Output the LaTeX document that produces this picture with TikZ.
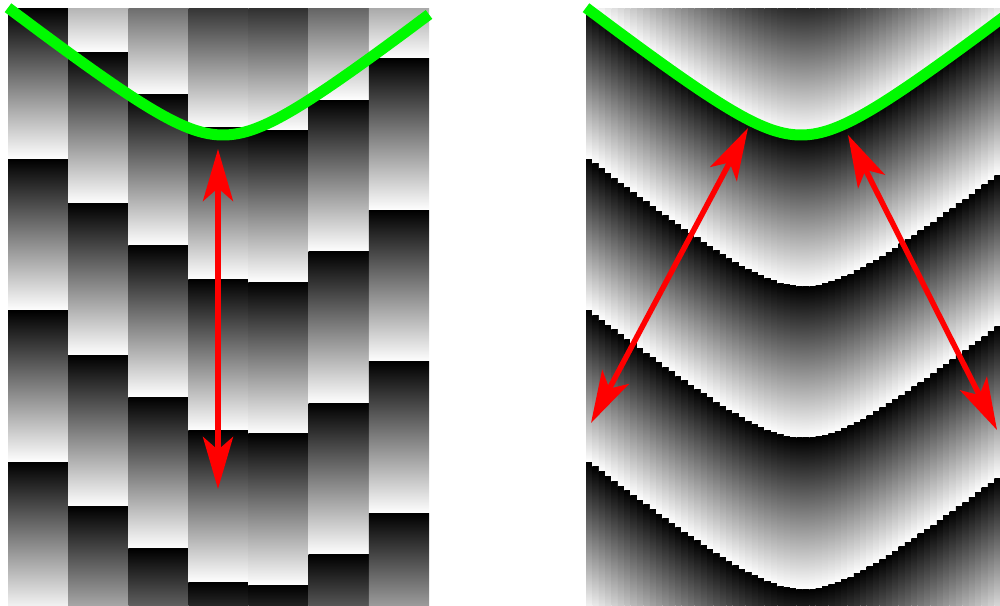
\documentclass[tikz,border=0pt]{standalone}
\usetikzlibrary{arrows.meta}
\definecolor{TruthGreen}{RGB}{0,250,0}
\definecolor{SpanRed}{RGB}{255,0,0}
% true (unwrapped) phase front, x measured from its apex
\pgfmathdeclarefunction{phasefront}{1}{%
  \pgfmathparse{135-0.78*(100*sqrt(0.36+((#1)/100)^2)-60)}}

\begin{document}
\begin{tikzpicture}[x=1pt, y=-1pt,
    wrap/.style={top color=black, bottom color=white},
    truth/.style={TruthGreen, line width=11pt},
    span/.style={{Stealth[length=52pt,width=30pt,inset=13pt]}-{Stealth[length=52pt,width=30pt,inset=13pt]},
                 line width=5.5pt, SpanRed}
  ]
    \useasboundingbox (0,0) rectangle (1000,605);

    % coarse sampling: 7 wide columns
    \begin{scope}
      \clip (8,8) rectangle (429,605);
      \foreach \i in {0,...,6} {
        \pgfmathsetmacro\xa{8+\i*60.143}
        \pgfmathsetmacro\ya{phasefront(\xa-223)}
        \foreach \k in {-1,...,3}
          \shade[wrap] ({\xa},{\ya+(\k)*151.5}) rectangle ({\xa+60.143},{\ya+(\k+1)*151.5});
      }
    \end{scope}

    % fine sampling: 66 thin columns
    \begin{scope}
      \clip (586,8) rectangle (1007,605);
      \foreach \i in {0,...,65} {
        \pgfmathsetmacro\xa{586+\i*6.379}
        \pgfmathsetmacro\ya{phasefront(\xa-801)}
        \foreach \k in {-1,...,3}
          \shade[wrap] ({\xa},{\ya+(\k)*151.5}) rectangle ({\xa+6.379},{\ya+(\k+1)*151.5});
      }
    \end{scope}

    \draw[truth] plot[domain=8:429, samples=90, smooth] (\x, {phasefront(\x-223)});
    \draw[truth] plot[domain=586:1004, samples=90, smooth] (\x, {phasefront(\x-801)});

    \coordinate (coarse top) at (218,149);
    \coordinate (coarse bot) at (218,489);
    \coordinate (fine l top) at (748,128);
    \coordinate (fine l bot) at (591,423);
    \coordinate (fine r top) at (848,135);
    \coordinate (fine r bot) at (997,430);

    \draw[span] (coarse top) -- (coarse bot);
    \draw[span] (fine l top) -- (fine l bot);
    \draw[span] (fine r top) -- (fine r bot);
  \end{tikzpicture}
\end{document}
